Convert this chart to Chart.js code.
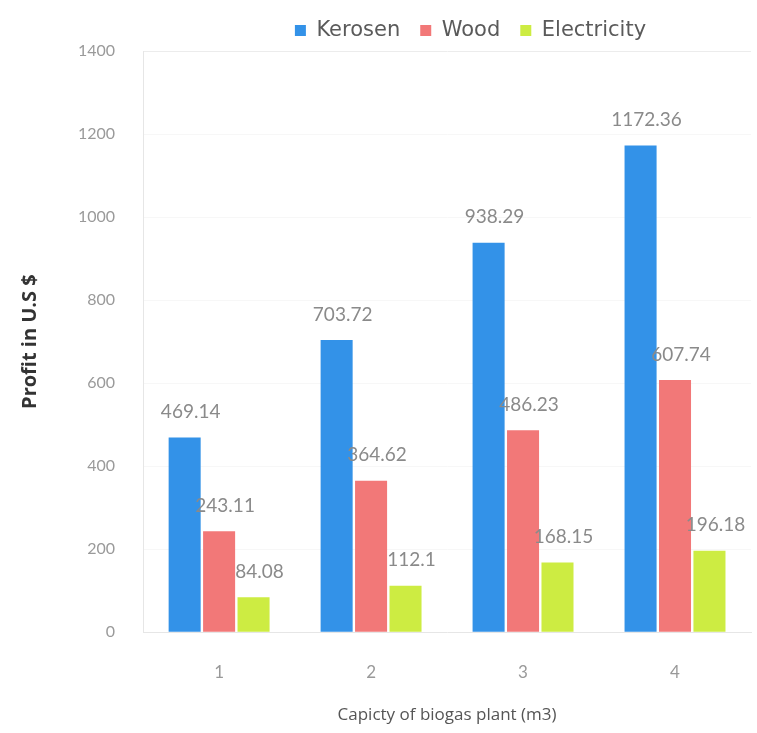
<!DOCTYPE html>
<html>
<head>
<meta charset="utf-8">
<script src="https://cdn.jsdelivr.net/npm/chart.js@4/dist/chart.umd.min.js"></script>
<style>
  html, body { margin: 0; padding: 0; background: #fff; }
  #wrap { width: 757px; height: 733px; }
</style>
</head>
<body>
<div id="wrap"><canvas id="biogasChart"></canvas></div>
<script>
// Chart data
const capacities = ["1", "2", "3", "4"];
const kerosen = [469.14, 703.72, 938.29, 1172.36];
const wood = [243.11, 364.62, 486.23, 607.74];
const electricity = [84.08, 112.1, 168.15, 196.18];
const yTicks = [0, 200, 400, 600, 800, 1000, 1200, 1400];

// Value labels drawn above each bar
const valueLabels = {
    id: 'valueLabels',
    afterDatasetsDraw(chart) {
        const ctx = chart.ctx;
        ctx.save();
        ctx.font = '19px Lato, "Open Sans", sans-serif';
        ctx.fillStyle = '#8a8a8a';
        ctx.textAlign = 'center';
        ctx.textBaseline = 'bottom';
        chart.data.datasets.forEach((ds, i) => {
            chart.getDatasetMeta(i).data.forEach((bar, j) => {
                ctx.fillText(String(ds.data[j]), bar.x + 6, bar.y - 16);
            });
        });
        ctx.restore();
    }
};

// legend sits right of centre in the original
const legendShift = {
    id: 'legendShift',
    afterLayout(chart) {
        chart.legend.left += 88;
        chart.legend.right += 88;
    }
};

document.addEventListener("DOMContentLoaded", function () {
    const ctx = document.getElementById('biogasChart').getContext('2d');
    new Chart(ctx, {
        type: 'bar',
        data: {
            labels: capacities,
            datasets: [
                { label: "Kerosen", data: kerosen, backgroundColor: "#3392e8" },
                { label: "Wood", data: wood, backgroundColor: "#f27878" },
                { label: "Electricity", data: electricity, backgroundColor: "#cdec42" }
            ]
        },
        options: {
            responsive: true,
            maintainAspectRatio: false,
            animation: false,
            layout: { padding: { left: 14, right: 6, top: 0, bottom: 4 } },
            datasets: {
                bar: { categoryPercentage: 0.68, barPercentage: 0.93 }
            },
            plugins: {
                legend: {
                    position: 'top',
                    labels: {
                        boxWidth: 11,
                        boxHeight: 11,
                        padding: 20,
                        color: '#5a5a5a',
                        font: { family: '"DejaVu Sans", sans-serif', size: 21 }
                    }
                },
                tooltip: { enabled: false }
            },
            scales: {
                x: {
                    grid: { display: false },
                    border: { color: '#e6e6e6' },
                    ticks: {
                        color: '#999',
                        padding: 22,
                        font: { family: 'Lato, "Open Sans", sans-serif', size: 17 }
                    },
                    title: {
                        display: true,
                        text: 'Capicty of biogas plant (m3)',
                        color: '#555',
                        padding: { top: 0, bottom: 4 },
                        font: { family: '"Open Sans", sans-serif', size: 17 }
                    }
                },
                y: {
                    min: 0,
                    max: 1400,
                    afterBuildTicks(axis) {
                        axis.ticks = yTicks.map(v => ({ value: v }));
                    },
                    grid: { color: (c) => c.tick.value === 1400 ? '#ececec' : '#f7f7f7', drawTicks: false },
                    border: { color: '#e6e6e6' },
                    ticks: {
                        color: '#9a9a9a',
                        padding: 28,
                        callback: (v) => String(v),
                        font: { family: 'Lato, "Open Sans", sans-serif', size: 16 }
                    },
                    title: {
                        display: true,
                        text: 'Profit in U.S $',
                        color: '#333',
                        padding: { bottom: 8 },
                        font: { family: '"Open Sans", sans-serif', size: 20, weight: 'bold' }
                    }
                }
            }
        },
        plugins: [valueLabels, legendShift]
    });
});
</script>
</body>
</html>
